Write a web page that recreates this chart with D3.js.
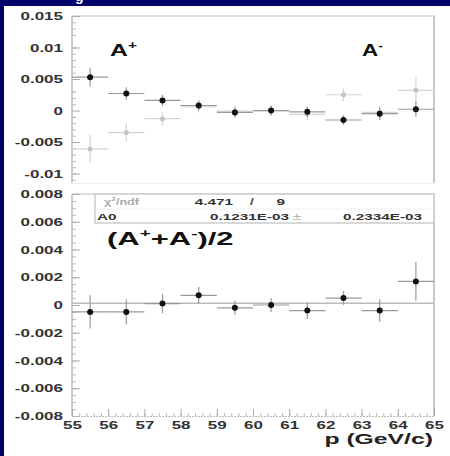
<!DOCTYPE html>
<html><head><meta charset="utf-8">
<script src="https://cdn.jsdelivr.net/npm/d3@7"></script>
<style>html,body{margin:0;padding:0;background:#00006a;overflow:hidden} svg{display:block}</style>
</head><body><svg id="c" width="450" height="456"></svg>
<script>
// ---------- data ----------
const binCenters = [55.5, 56.5, 57.5, 58.5, 59.5, 60.5, 61.5, 62.5, 63.5, 64.5];
const binHalfWidth = 0.5;
const aPlus     = [0.0053, 0.0027, 0.0016, 0.0008, -0.0003, 0.0000, -0.0002, -0.0015, -0.0005, 0.0002];
const aPlusErr  = [0.0015, 0.0010, 0.0009, 0.0008, 0.0008, 0.0008, 0.0008, 0.0008, 0.0010, 0.0012];
const aMinus    = [-0.0061, -0.0035, -0.0013, 0.0006, -0.0001, 0.0000, -0.0006, 0.0025, -0.0003, 0.0032];
const aMinusErr = [0.0022, 0.0015, 0.0011, 0.0009, 0.0008, 0.0008, 0.0009, 0.0010, 0.0011, 0.0022];
const avgA      = [-0.0005, -0.0005, 0.0001, 0.0007, -0.0002, 0.0000, -0.0004, 0.0005, -0.0004, 0.0017];
const avgAErr   = [0.0012, 0.0009, 0.0007, 0.0006, 0.0005, 0.0005, 0.0006, 0.0005, 0.0008, 0.0014];
const xTicks = [55, 56, 57, 58, 59, 60, 61, 62, 63, 64, 65];
const topYTicks = [-0.01, -0.005, 0, 0.005, 0.01, 0.015];
const topYTickLabels = ["-0.01", "-0.005", "0", "0.005", "0.01", "0.015"];
const botYTicks = [-0.008, -0.006, -0.004, -0.002, 0, 0.002, 0.004, 0.006, 0.008];
const botYTickLabels = ["-0.008", "-0.006", "-0.004", "-0.002", "0", "0.002", "0.004", "0.006", "0.008"];
const fitChi2 = "4.471", fitNdf = "9";
const fitA0 = 0.0001231, fitA0Label = "0.1231E-03", fitA0ErrLabel = "0.2334E-03";
const xTitle = "p (GeV/c)";

// ---------- layout ----------
const svg = d3.select("#c");
const SX = 1.7; // horizontal stretch of the original picture's text
const FONT = "'Liberation Sans', Arial, sans-serif";
svg.append("rect").attr("x", 4).attr("y", 6).attr("width", 446).attr("height", 450).attr("fill", "#fff");
svg.append("text").attr("x", 75).attr("y", 1).attr("fill", "#fff").attr("font-family", FONT)
   .attr("font-weight", "bold").attr("font-size", 14).text("g");

const x = d3.scaleLinear().domain([55, 65]).range([72, 434]);
const yTop = d3.scaleLinear().domain([-0.0115, 0.015]).range([183, 16]);
const yBot = d3.scaleLinear().domain([-0.008, 0.008]).range([416, 194]);

function label(g, px, py, txt, size, anchor, color, sx) {
  const t = g.append("text")
    .attr("transform", `translate(${px},${py}) scale(${sx || SX},1)`)
    .attr("text-anchor", anchor || "start")
    .attr("font-family", FONT).attr("font-weight", "bold")
    .attr("font-size", size).attr("fill", color || "#222");
  if (typeof txt === "string") t.text(txt);
  else txt.forEach(p => t.append("tspan").attr("font-size", p.s || size)
      .attr("dy", p.dy || 0).text(p.t));
  return t;
}

// frames
function frame(yS, top, bottom) {
  svg.append("line").attr("x1", 72).attr("x2", 435).attr("y1", top).attr("y2", top)
     .attr("stroke", "#ddd").attr("stroke-width", 2);
  svg.append("line").attr("x1", 434).attr("x2", 434).attr("y1", top).attr("y2", bottom)
     .attr("stroke", "#c8c8c8").attr("stroke-width", 2);
}
frame(yTop, 16, 183);
frame(yBot, 194, 416);
svg.append("line").attr("x1", 72).attr("x2", 434).attr("y1", 183.5).attr("y2", 183.5)
   .attr("stroke", "#eee").attr("stroke-width", 1);

// y axes
function yAxis(scale, ticks, labels, minorStep, top, bottom) {
  const g = svg.append("g").attr("transform", "translate(72,0)");
  const minors = d3.range(scale.domain()[0], scale.domain()[1] + 1e-9, minorStep)
    .map(v => Math.round(v / minorStep) * minorStep);
  g.call(d3.axisRight(scale).tickValues(minors).tickSize(4).tickFormat(""));
  g.selectAll(".tick line").attr("stroke", "#bbb");
  const g2 = svg.append("g").attr("transform", "translate(72,0)");
  g2.call(d3.axisRight(scale).tickValues(ticks).tickSize(8)
     .tickFormat((d, i) => labels[i]));
  g2.selectAll(".tick line").attr("stroke", "#aaa");
  g2.selectAll(".tick text")
    .attr("text-anchor", "end").attr("x", -9 / SX).attr("dy", "0.35em")
    .attr("transform", `scale(${SX},1)`)
    .attr("font-family", FONT).attr("font-weight", "bold").attr("font-size", 10).attr("fill", "#333");
  g.select(".domain").remove();
  g2.select(".domain").remove();
  svg.append("line").attr("x1", 72).attr("x2", 72).attr("y1", top).attr("y2", bottom)
     .attr("stroke", "#bbb").attr("stroke-width", 1.5);
}
yAxis(yTop, topYTicks, topYTickLabels, 0.001, 16, 183);
yAxis(yBot, botYTicks, botYTickLabels, 0.0005, 194, 416);

// x axis (bottom panel)
const gxm = svg.append("g").attr("transform", "translate(0,416)");
gxm.call(d3.axisTop(x).tickValues(d3.range(55, 65.001, 0.2)).tickSize(3).tickFormat(""));
gxm.selectAll(".tick line").attr("stroke", "#bbb");
gxm.select(".domain").attr("stroke", "#bbb").attr("stroke-dasharray", "2,1");
const gx = svg.append("g").attr("transform", "translate(0,416)");
gx.call(d3.axisTop(x).tickValues(xTicks).tickSize(7).tickFormat(d3.format("d")));
gx.select(".domain").remove();
gx.selectAll(".tick line").attr("stroke", "#aaa");
gx.selectAll(".tick text").attr("y", 13).attr("dy", 0)
  .attr("transform", `scale(${SX},1)`).attr("x", 0)
  .attr("font-family", FONT).attr("font-weight", "bold").attr("font-size", 10).attr("fill", "#333");
// keep label centres at tick positions despite scaling
gx.selectAll(".tick text").attr("text-anchor", "middle");
label(svg, 433, 444, xTitle, 15, "end", "#222", 1.65);

// data points
function points(yS, vals, errs, markerColor, barColor, r) {
  const g = svg.append("g");
  binCenters.forEach((c, i) => {
    g.append("line").attr("x1", x(c - binHalfWidth)).attr("x2", x(c + binHalfWidth))
     .attr("y1", yS(vals[i])).attr("y2", yS(vals[i])).attr("stroke", barColor).attr("stroke-width", 1.2);
    g.append("line").attr("x1", x(c)).attr("x2", x(c))
     .attr("y1", yS(vals[i] - errs[i])).attr("y2", yS(vals[i] + errs[i]))
     .attr("stroke", barColor).attr("stroke-width", 1.2);
    g.append("circle").attr("cx", x(c)).attr("cy", yS(vals[i])).attr("r", r).attr("fill", markerColor);
  });
}
points(yTop, aMinus, aMinusErr, "#c4c4c4", "#d4d4d4", 2.5);
points(yTop, aPlus, aPlusErr, "#111", "#999", 3);

// fit line bottom
svg.append("line").attr("x1", 72).attr("x2", 434).attr("y1", yBot(fitA0)).attr("y2", yBot(fitA0))
   .attr("stroke", "#bbb").attr("stroke-width", 1.5);
points(yBot, avgA, avgAErr, "#111", "#999", 3);

// labels
label(svg, 110, 56, [{t: "A"}, {t: "+", s: 10, dy: -7}], 16, "start", "#111", 1.55);
label(svg, 362, 56, [{t: "A"}, {t: "-", s: 10, dy: -7}], 16, "start", "#111", 1.4);
label(svg, 107, 245, [{t: "(A"}, {t: "+", s: 11, dy: -8}, {t: "+A", dy: 8}, {t: "-", s: 11, dy: -8}, {t: ")/2", dy: 8}], 18, "start", "#111", 1.72);

// stats box
svg.append("rect").attr("x", 95).attr("y", 194).attr("width", 339).attr("height", 29)
   .attr("fill", "#fff").attr("stroke", "#ccc").attr("stroke-width", 1.5);
svg.append("line").attr("x1", 95).attr("x2", 434).attr("y1", 209).attr("y2", 209)
   .attr("stroke", "#f0f0f0").attr("stroke-width", 1);
label(svg, 104, 205, [{t: "χ"}, {t: "2", s: 6, dy: -4}, {t: "/ndf", dy: 4}], 9, "start", "#aaa", 1.4);
label(svg, 233, 205, fitChi2, 9, "end", "#333");
label(svg, 252, 205, "/", 9, "middle", "#555");
label(svg, 285, 205, fitNdf, 9, "end", "#333");
label(svg, 97, 220, "A0", 9, "start", "#333");
label(svg, 289, 220, fitA0Label, 9, "end", "#333");
label(svg, 297, 220, "±", 9, "middle", "#bbb");
label(svg, 422, 220, fitA0ErrLabel, 9, "end", "#333");
</script></body></html>
